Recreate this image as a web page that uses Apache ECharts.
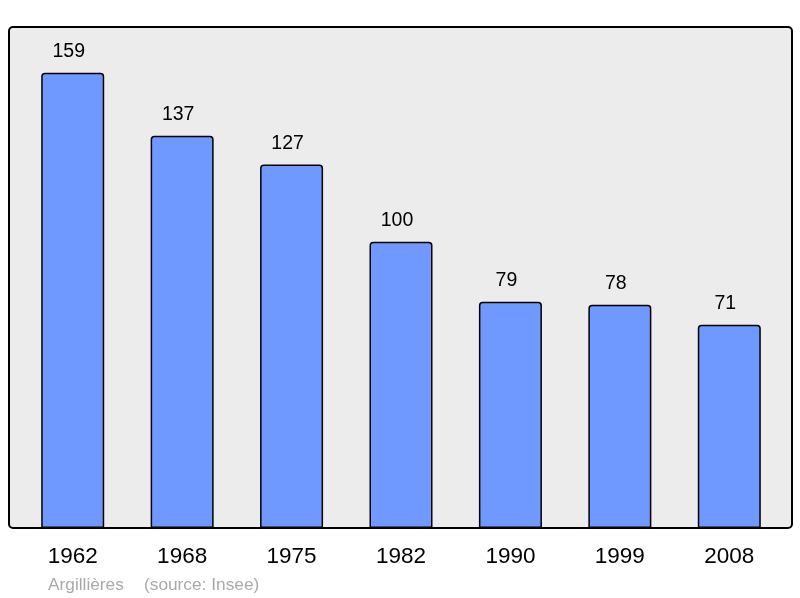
<!DOCTYPE html>
<html>
<head>
<meta charset="utf-8">
<script src="https://cdn.jsdelivr.net/npm/echarts@6/dist/echarts.min.js"></script>
<style>
  html, body { margin: 0; padding: 0; background: #fff; }
  #chart { width: 800px; height: 598px; }
</style>
</head>
<body>
<div id="chart"></div>
<script>
const years = ['1962', '1968', '1975', '1982', '1990', '1999', '2008'];
const population = [159, 137, 127, 100, 79, 78, 71];

const chart = echarts.init(document.getElementById('chart'));

chart.setOption({
  animation: false,
  textStyle: { fontFamily: 'Liberation Sans, Arial, sans-serif' },
  grid: { left: 18, right: 16, top: 27, bottom: 70 },
  graphic: [
    {
      type: 'rect',
      z: -10,
      shape: { x: 9, y: 27, width: 783, height: 501, r: 4 },
      style: { fill: '#ececec', stroke: '#000', lineWidth: 2 }
    },
    {
      type: 'text',
      left: 48,
      top: 577,
      style: {
        text: 'Argillières',
        fill: '#aaaaaa',
        font: '17.3px Liberation Sans, Arial, sans-serif'
      }
    },
    {
      type: 'text',
      left: 144,
      top: 577,
      style: {
        text: '(source: Insee)',
        fill: '#aaaaaa',
        font: '17.3px Liberation Sans, Arial, sans-serif'
      }
    }
  ],
  xAxis: {
    type: 'category',
    data: years,
    axisLine: { show: false },
    axisTick: { show: false },
    axisLabel: { color: '#000', fontSize: 22.5, margin: 17 }
  },
  yAxis: {
    type: 'value',
    min: 0,
    max: 175,
    show: false
  },
  series: [
    {
      type: 'bar',
      data: population,
      barWidth: 63,
      itemStyle: {
        color: '#7099ff',
        borderColor: '#000',
        borderWidth: 1.5,
        borderRadius: [3, 3, 0, 0]
      },
      label: {
        show: true,
        position: 'top',
        distance: 11,
        offset: [-4, 0],
        color: '#000',
        fontSize: 19.5
      }
    }
  ]
});
</script>
</body>
</html>
